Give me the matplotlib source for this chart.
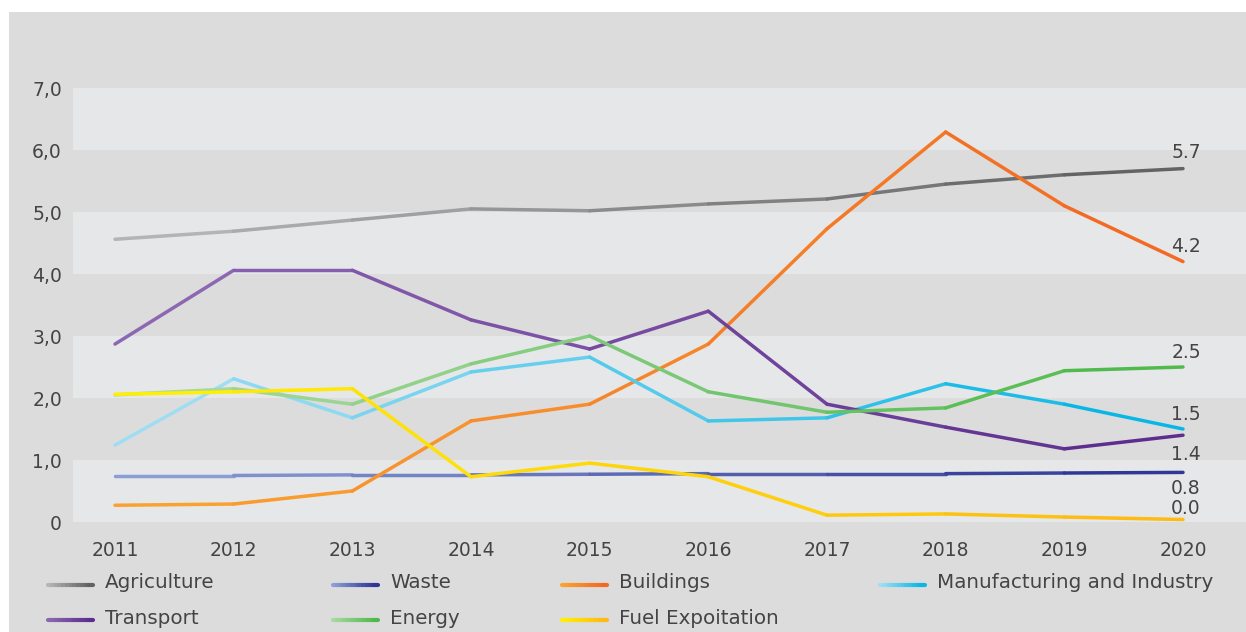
import numpy as np
import matplotlib.pyplot as plt
from matplotlib.collections import LineCollection
from matplotlib.colors import LinearSegmentedColormap
from matplotlib.patches import Rectangle

# emissions by sector, 2011-2020
years = [2011, 2012, 2013, 2014, 2015, 2016, 2017, 2018, 2019, 2020]
agriculture = [4.56, 4.69, 4.87, 5.05, 5.02, 5.13, 5.21, 5.45, 5.60, 5.70]
waste = [0.75, 0.75, 0.76, 0.76, 0.77, 0.78, 0.78, 0.78, 0.79, 0.80]
buildings = [0.27, 0.29, 0.50, 1.63, 1.90, 2.87, 4.73, 6.29, 5.10, 4.20]
manufacturing = [1.24, 2.31, 1.68, 2.42, 2.66, 1.63, 1.68, 2.23, 1.90, 1.50]
transport = [2.87, 4.06, 4.06, 3.26, 2.79, 3.40, 1.90, 1.53, 1.18, 1.40]
energy = [2.05, 2.15, 1.90, 2.55, 3.00, 2.10, 1.77, 1.84, 2.44, 2.50]
fuel = [2.06, 2.10, 2.15, 0.73, 0.95, 0.73, 0.11, 0.13, 0.08, 0.04]

sector_names = ["Agriculture", "Waste", "Buildings", "Manufacturing and Industry",
                "Transport", "Energy", "Fuel Expoitation"]
sector_values = [agriculture, waste, buildings, manufacturing, transport, energy, fuel]
y_ticks = [0, 1, 2, 3, 4, 5, 6, 7]
y_tick_labels = ["0", "1,0", "2,0", "3,0", "4,0", "5,0", "6,0", "7,0"]

# gradient ends (left -> right) for each sector
colors = {
    "Agriculture": ("#b8b9bb", "#5d5e60"),
    "Waste": ("#8fa4d9", "#2b3190"),
    "Buildings": ("#faa532", "#f26722"),
    "Manufacturing and Industry": ("#a8e0f3", "#00b5e5"),
    "Transport": ("#8f6ab4", "#5b2b8d"),
    "Energy": ("#abdaa4", "#4cb848"),
    "Fuel Expoitation": ("#fff200", "#fdb814"),
}
# vertical offset (pixels) of the end-of-line value labels
label_offsets = {
    "Agriculture": 16, "Waste": -16, "Buildings": 15,
    "Manufacturing and Industry": 14, "Transport": -19,
    "Energy": 15, "Fuel Expoitation": 11,
}

W, H = 1246, 632
BG = "#dcdcdc"
BAND = "#e6e7e9"
TEXT = "#444444"
FONT = "DejaVu Sans"
FS = 13.5
LEG_FS = 14.3
LW = 2.5

plt.rcParams["font.family"] = [FONT]


def gradient_line(ax, x, y, c0, c1, lw, zorder=3):
    x = np.asarray(x, float)
    y = np.asarray(y, float)
    pts = np.column_stack([x, y]).reshape(-1, 1, 2)
    segs = np.concatenate([pts[:-1], pts[1:]], axis=1)
    cmap = LinearSegmentedColormap.from_list("grad", [c0, c1])
    mids = (x[:-1] + x[1:]) / 2
    t = (mids - x.min()) / (x.max() - x.min())
    lc = LineCollection(segs, colors=cmap(t), linewidths=lw,
                        capstyle="round", joinstyle="round", zorder=zorder)
    ax.add_collection(lc)
    return lc


fig = plt.figure(figsize=(W / 100, H / 100), dpi=100)
fig.patch.set_facecolor("white")
fig.add_artist(Rectangle((9 / W, 0), 1, (H - 12) / H, transform=fig.transFigure,
                         facecolor=BG, edgecolor="none", zorder=0))

# plot area in pixel terms
left, right, top, bottom = 73, W, 88, 522
ax = fig.add_axes([left / W, (H - bottom) / H, (right - left) / W, (bottom - top) / H])
ax.set_facecolor(BG)
for s in ax.spines.values():
    s.set_visible(False)

# alternating horizontal bands
for lo in range(0, 7, 2):
    ax.axhspan(lo, lo + 1, color=BAND, lw=0, zorder=0)

px_per_year = 118.67
ax.set_xlim(years[0] - (115 - left) / px_per_year, years[-1] + (right - 1183) / px_per_year)
ax.set_ylim(0, 7)

for name, vals in zip(sector_names, sector_values):
    c0, c1 = colors[name]
    gradient_line(ax, years, vals, c0, c1, LW)
    ax.annotate(f"{vals[-1]:.1f}", (years[-1], vals[-1]),
                xytext=(3 * 0.72, label_offsets[name] * 0.72), textcoords="offset points",
                ha="center", va="center", fontsize=FS, color=TEXT, zorder=5)

ax.set_xticks(years)
ax.set_xticklabels([str(y) for y in years])
ax.set_yticks(y_ticks)
ax.set_yticklabels(y_tick_labels)
ax.tick_params(axis="x", length=0, pad=14, labelsize=FS, labelcolor=TEXT)
ax.tick_params(axis="y", length=0, pad=8, labelsize=FS, labelcolor=TEXT)

# legend laid out in pixel coordinates below the plot
lax = fig.add_axes([0, 0, 1, 1])
lax.set_xlim(0, W)
lax.set_ylim(H, 0)
lax.axis("off")
legend_cols = [48, 333, 562, 880]
legend_rows = [585, 620]
for i, name in enumerate(sector_names):
    x0 = legend_cols[i % 4]
    yy = legend_rows[i // 4]
    c0, c1 = colors[name]
    xs = np.linspace(x0, x0 + 45, 13)
    gradient_line(lax, xs, np.full_like(xs, yy), c0, c1, 3.0)
    lax.text(x0 + 57, yy - 2, name, ha="left", va="center", fontsize=LEG_FS, color=TEXT)

fig.savefig("out.png", dpi=100, facecolor=fig.get_facecolor())
